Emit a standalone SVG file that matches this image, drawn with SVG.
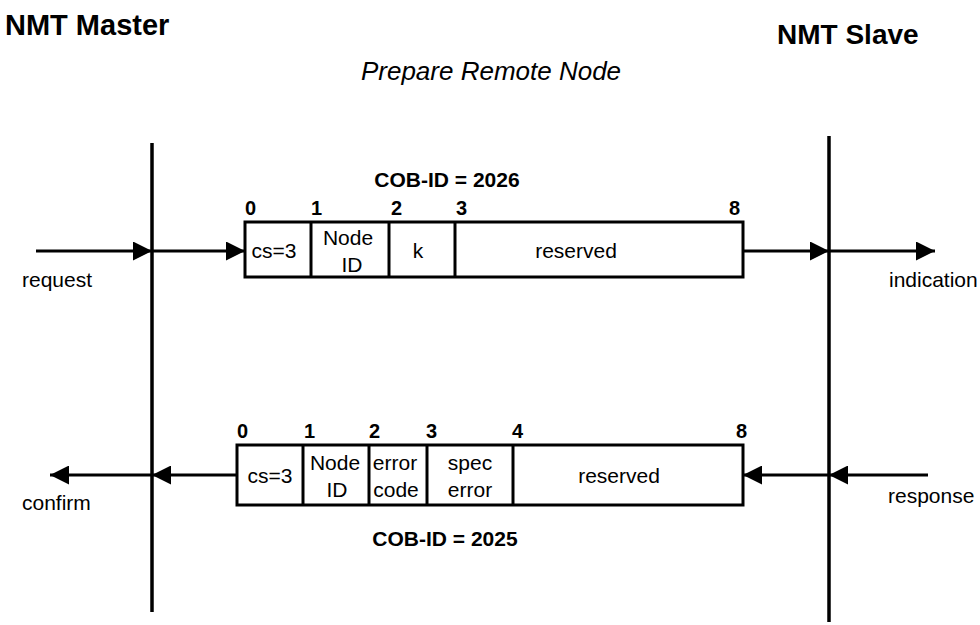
<svg xmlns="http://www.w3.org/2000/svg" width="980" height="625" viewBox="0 0 980 625">
<defs>
<marker id="ah" viewBox="0 0 19 19" refX="19" refY="9.5" markerWidth="19" markerHeight="19" markerUnits="userSpaceOnUse" orient="auto">
<path d="M0,0 L19,9.5 L0,19 Z" fill="#000"/>
</marker>
</defs>
<style>
text{font-family:"Liberation Sans",Arial,sans-serif;fill:#000}
.t{font-size:21px}
.b{font-size:20px;font-weight:bold}
.c{font-size:21px;font-weight:bold}
.h{font-size:29px;font-weight:bold}
.m{text-anchor:middle}
.box{fill:#fff;stroke:#000;stroke-width:3}
.ln{stroke:#000;stroke-width:3;fill:none}
.ar{stroke:#000;stroke-width:3;fill:none;marker-end:url(#ah)}
</style>
<rect width="980" height="625" fill="#fff"/>
<g id="titles">
<text class="h" x="5" y="35">NMT Master</text>
<text class="h" x="777" y="44" style="font-size:28px">NMT Slave</text>
<text class="t m" x="491" y="80" style="font-size:26px;font-style:italic">Prepare Remote Node</text>
</g>
<g id="master-line"><line class="ln" x1="152" y1="143" x2="152" y2="612" style="stroke-width:3.5"/></g>
<g id="slave-line"><line class="ln" x1="829" y1="136" x2="829" y2="622" style="stroke-width:3.5"/></g>
<g id="request-frame">
<text class="c m" x="447" y="187">COB-ID = 2026</text>
<text class="b" x="245" y="215">0</text>
<text class="b" x="311" y="215">1</text>
<text class="b" x="391" y="215">2</text>
<text class="b" x="456" y="215">3</text>
<text class="b" x="729" y="215">8</text>
<rect class="box" x="245" y="222" width="498" height="55"/>
<line class="ln" x1="311" y1="222" x2="311" y2="277"/>
<line class="ln" x1="389" y1="222" x2="389" y2="277"/>
<line class="ln" x1="455" y1="222" x2="455" y2="277"/>
<text class="t m" x="274" y="258">cs=3</text>
<text class="t m" x="348" y="245">Node</text>
<text class="t m" x="352" y="272">ID</text>
<text class="t m" x="418" y="258">k</text>
<text class="t m" x="576" y="258">reserved</text>
</g>
<g id="response-frame">
<text class="b" x="237" y="438">0</text>
<text class="b" x="304" y="438">1</text>
<text class="b" x="369" y="438">2</text>
<text class="b" x="426" y="438">3</text>
<text class="b" x="512" y="438">4</text>
<text class="b" x="736" y="438">8</text>
<rect class="box" x="237" y="445" width="506" height="60"/>
<line class="ln" x1="303" y1="445" x2="303" y2="505"/>
<line class="ln" x1="369" y1="445" x2="369" y2="505"/>
<line class="ln" x1="427" y1="445" x2="427" y2="505"/>
<line class="ln" x1="513" y1="445" x2="513" y2="505"/>
<text class="t m" x="270" y="483">cs=3</text>
<text class="t m" x="335" y="470">Node</text>
<text class="t m" x="337" y="497">ID</text>
<text class="t m" x="395" y="470">error</text>
<text class="t m" x="396" y="497">code</text>
<text class="t m" x="470" y="470">spec</text>
<text class="t m" x="470" y="497">error</text>
<text class="t m" x="619" y="483">reserved</text>
<text class="c m" x="445" y="546">COB-ID = 2025</text>
</g>
<g id="labels">
<text class="t" x="22" y="287">request</text>
<text class="t" x="889" y="287">indication</text>
<text class="t" x="22" y="510">confirm</text>
<text class="t" x="888" y="503">response</text>
</g>
<g id="connectors">
<line class="ar" x1="36" y1="251" x2="152" y2="251"/>
<line class="ar" x1="152" y1="251" x2="245" y2="251"/>
<line class="ar" x1="743" y1="251" x2="829" y2="251"/>
<line class="ar" x1="829" y1="251" x2="935" y2="251"/>
<line class="ar" x1="152" y1="475" x2="50" y2="475"/>
<line class="ar" x1="237" y1="475" x2="152" y2="475"/>
<line class="ar" x1="829" y1="475" x2="743" y2="475"/>
<line class="ar" x1="928" y1="475" x2="829" y2="475"/>
</g>
</svg>
